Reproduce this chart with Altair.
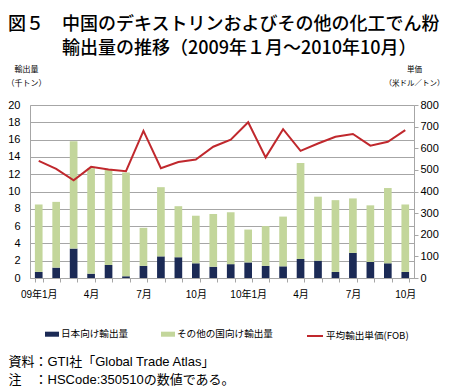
import altair as alt
import pandas as pd

months = ["2009-01", "2009-02", "2009-03", "2009-04", "2009-05", "2009-06",
          "2009-07", "2009-08", "2009-09", "2009-10", "2009-11", "2009-12",
          "2010-01", "2010-02", "2010-03", "2010-04", "2010-05", "2010-06",
          "2010-07", "2010-08", "2010-09", "2010-10"]
japan = [0.7, 1.2, 3.4, 0.5, 1.5, 0.2, 1.4, 2.5, 2.4, 1.7, 1.3, 1.6,
         1.8, 1.4, 1.35, 2.2, 2.0, 0.7, 2.9, 1.85, 1.7, 0.7]
others = [7.8, 7.6, 12.4, 12.2, 11.1, 12.0, 4.4, 8.0, 5.9, 5.5, 6.1, 6.0,
          3.8, 4.6, 5.75, 11.1, 7.4, 8.3, 6.3, 6.55, 8.7, 7.8]
price = [542, 505, 452, 514, 502, 494, 680, 508, 536, 548, 607, 640,
         720, 558, 688, 588, 622, 653, 666, 612, 630, 684]
tick_labels = {"2009-01": "09年1月", "2009-04": "4月", "2009-07": "7月",
               "2009-10": "10月", "2010-01": "10年1月", "2010-04": "4月",
               "2010-07": "7月", "2010-10": "10月"}

S_JP = "日本向け輸出量"
S_OT = "その他の国向け輸出量"
S_PR = "平均輸出単価(FOB)"

bar_rows = []
for m, j, o in zip(months, japan, others):
    bar_rows.append({"month": m, "series": S_JP, "value": j, "ord": 0})
    bar_rows.append({"month": m, "series": S_OT, "value": o, "ord": 1})
bar_df = pd.DataFrame(bar_rows)
line_df = pd.DataFrame({"month": months, "price": price, "s2": S_PR})

FONT = "Liberation Sans, Noto Sans CJK JP"
JFONT = "Noto Sans CJK JP"
GRID = "#a6a6a6"

label_expr = ""
for k, v in tick_labels.items():
    label_expr += f"datum.value == '{k}' ? '{v}' : "
label_expr += "''"

xenc = alt.X("month:N", sort=months,
             scale=alt.Scale(paddingInner=0.56, paddingOuter=0.28),
             axis=alt.Axis(labelExpr=label_expr, labelAngle=0, labelFont=FONT,
                           labelFontSize=10, labelColor="#000", tickBand="extent",
                           tickSize=4, tickColor=GRID, domainColor=GRID,
                           labelPadding=7,
                           title=["資料：GTI社「Global Trade Atlas」",
                                  "注　：HSCode:350510の数値である。"],
                           titleFont=FONT, titleFontSize=13, titleFontWeight="normal",
                           titleAlign="left", titleBaseline="top", titleX=-22,
                           titleY=77, titleLineHeight=18, titleColor="#000"))

bars = alt.Chart(bar_df).mark_bar().encode(
    x=xenc,
    y=alt.Y("value:Q", stack="zero",
            scale=alt.Scale(domain=[0, 20], nice=False),
            axis=alt.Axis(values=list(range(0, 21, 2)), grid=True, gridColor=GRID,
                          ticks=False, labelPadding=10, labelFont=FONT,
                          labelFontSize=11, labelColor="#000", domainColor=GRID,
                          title=["輸出量", "（千トン）"], titleFont=JFONT,
                          titleFontSize=8, titleFontWeight="normal", titleAngle=0,
                          titleAlign="center", titleBaseline="top",
                          titleX=-4, titleY=-40, titleLineHeight=14,
                          titleColor="#000")),
    color=alt.Color("series:N",
                    scale=alt.Scale(domain=[S_JP, S_OT], range=["#1b2a55", "#c3d69b"]),
                    legend=alt.Legend(orient="none", legendX=15, legendY=222,
                                      direction="horizontal", title=None,
                                      symbolType="M-1,-0.36H1V0.36H-1Z",
                                      symbolSize=196, symbolStrokeWidth=0,
                                      labelFont=JFONT, labelFontSize=9.6,
                                      labelColor="#000", columnPadding=32,
                                      labelOffset=2)),
    order=alt.Order("ord:Q"),
)

line = alt.Chart(line_df).mark_line(strokeWidth=2).encode(
    x=alt.X("month:N", sort=months),
    y=alt.Y("price:Q", scale=alt.Scale(domain=[0, 800], nice=False),
            axis=alt.Axis(orient="right", values=list(range(0, 801, 100)),
                          grid=False, tickSize=4, tickColor=GRID,
                          domainColor=GRID, labelPadding=2, labelFont=FONT,
                          labelFontSize=11, labelColor="#000",
                          title=["単価", "（米ドル／トン）"], titleFont=JFONT,
                          titleFontSize=7.5, titleFontWeight="normal", titleAngle=0,
                          titleAlign="center", titleBaseline="top",
                          titleX=0, titleY=-40, titleLineHeight=14,
                          titleColor="#000")),
    stroke=alt.Stroke("s2:N", scale=alt.Scale(domain=[S_PR], range=["#c0282d"]),
                      legend=alt.Legend(orient="none", legendX=276, legendY=222,
                                        title=None, symbolType="stroke",
                                        symbolSize=256, symbolStrokeWidth=2,
                                        labelFont=JFONT, labelFontSize=9.6,
                                        labelColor="#000", labelOffset=2)),
)

chart = alt.layer(bars, line).resolve_scale(
    y="independent", color="independent"
).properties(
    width=384, height=173,
    autosize=alt.AutoSizeParams(type="none"),
    padding={"left": 22, "top": 97, "right": 30, "bottom": 110},
    title=alt.TitleParams(
        text=["図５　中国のデキストリンおよびその他の化工でん粉",
              "\u200b　　　輸出量の推移（2009年１月～2010年10月）"],
        anchor="start", frame="group", font=JFONT, fontSize=18,
        fontWeight=500, color="#000", dx=-22, lineHeight=24, offset=7),
).configure_view(stroke=None).configure(background="white")

chart.save("out.html", embed_options={"renderer": "svg", "actions": False})
